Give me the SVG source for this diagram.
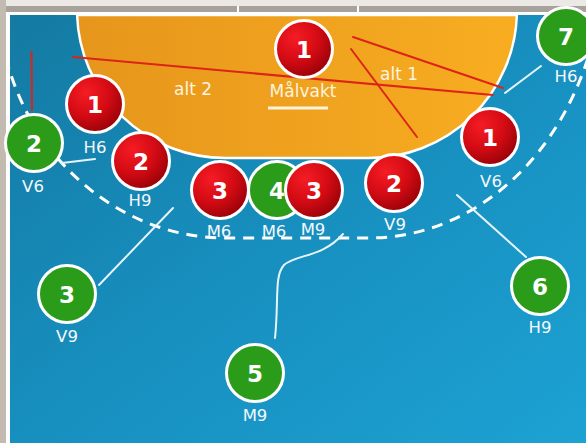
<svg xmlns="http://www.w3.org/2000/svg" width="586" height="443" viewBox="0 0 586 443">
  <defs>
    <linearGradient id="court" x1="0" y1="0" x2="1" y2="1">
      <stop offset="0" stop-color="#147aa2"/>
      <stop offset="0.5" stop-color="#178fbf"/>
      <stop offset="1" stop-color="#1ca2d3"/>
    </linearGradient>
    <linearGradient id="goalArea" x1="0" y1="0" x2="1" y2="0">
      <stop offset="0" stop-color="#e6961b"/>
      <stop offset="1" stop-color="#f8ad21"/>
    </linearGradient>
    <radialGradient id="redBall" cx="0.35" cy="0.3" r="0.8">
      <stop offset="0" stop-color="#f51c24"/>
      <stop offset="0.5" stop-color="#d40b14"/>
      <stop offset="1" stop-color="#8e0007"/>
    </radialGradient>
    <clipPath id="fieldClip">
      <rect x="10" y="15" width="576" height="428"/>
    </clipPath>
    <style>
      .red { fill: url(#redBall); stroke: #ffffff; stroke-width: 3; }
      .green { fill: #2b9b1a; stroke: #ffffff; stroke-width: 3; }
      .num { font-family: "DejaVu Sans", Verdana, sans-serif; font-weight: bold; font-size: 23px; fill: #ffffff; text-anchor: middle; }
      .lbl { font-family: "DejaVu Sans", Verdana, sans-serif; font-size: 16.5px; fill: #f4f8fb; text-anchor: middle; }
      .txt { font-family: "DejaVu Sans", Verdana, sans-serif; font-size: 17px; fill: #fdf3df; text-anchor: middle; }
      .move { fill: none; stroke: #e6f4fa; stroke-width: 2; stroke-linecap: round; }
      .redline { fill: none; stroke: #dc2418; stroke-width: 2; stroke-linecap: round; }
    </style>
  </defs>

  <!-- frame -->
  <rect x="0" y="0" width="586" height="443" fill="#ebe8e5"/>
  <rect x="0" y="0" width="6" height="443" fill="#c3bab0"/>
  <rect x="6" y="6" width="580" height="6" fill="#a8a29c"/>
  <rect x="6" y="12" width="580" height="431" fill="#ffffff"/>
  <line x1="238" y1="6" x2="238" y2="12" stroke="#ffffff" stroke-width="2"/>
  <line x1="358" y1="6" x2="358" y2="12" stroke="#ffffff" stroke-width="2"/>

  <!-- court -->
  <rect x="10" y="15" width="576" height="428" fill="url(#court)"/>

  <!-- 6 m goal area -->
  <path d="M77.1,15 A148,148 0 0 0 225,158 L369,158 A148,148 0 0 0 516.9,15 Z" fill="url(#goalArea)" stroke="#ffffff" stroke-width="2.5"/>

  <!-- 9 m free-throw line -->
  <path clip-path="url(#fieldClip)" d="M6,58 C35,170 130,238 225,238 L369,238 C460,238 550,175 588,58" fill="none" stroke="#ffffff" stroke-width="3" stroke-dasharray="11 8"/>

  <g id="connectors">
    <!-- goalkeeper options -->
    <line class="redline" x1="31.5" y1="52" x2="32" y2="110" stroke="#a8262a"/>
    <line class="redline" x1="73" y1="57" x2="493" y2="95"/>
    <line class="redline" x1="353" y1="37" x2="503" y2="88"/>
    <line class="redline" x1="351" y1="49" x2="417" y2="137"/>
    <!-- player runs -->
    <line class="move" x1="62" y1="163" x2="95" y2="159"/>
    <line class="move" x1="99" y1="285" x2="173" y2="208"/>
    <path class="move" d="M275,338 C279,300 274,276 284,265 C296,254 322,258 343,234"/>
    <line class="move" x1="526" y1="257" x2="457" y2="195"/>
    <line class="move" x1="541" y1="66" x2="505" y2="93"/>
  </g>

  <!-- goal area texts -->
  <text class="txt" x="193" y="95">alt 2</text>
  <text class="txt" x="399" y="80">alt 1</text>
  <text class="txt" x="303" y="97">Målvakt</text>
  <line x1="268" y1="108" x2="328" y2="108" stroke="#fdf3df" stroke-width="3"/>

  <g id="goalkeeper">
    <circle class="red" cx="304" cy="49" r="28.5"/>
    <text class="num" x="304" y="57.5">1</text>
  </g>

  <g id="def-h6">
    <circle class="red" cx="95" cy="104" r="28.5"/>
    <text class="num" x="95" y="112.5">1</text>
    <text class="lbl" x="95" y="153">H6</text>
  </g>

  <g id="att-v6">
    <circle class="green" cx="34" cy="143" r="28.5"/>
    <text class="num" x="34" y="151.5">2</text>
    <text class="lbl" x="33" y="192">V6</text>
  </g>

  <g id="def-h9">
    <circle class="red" cx="141" cy="161" r="28.5"/>
    <text class="num" x="141" y="169.5">2</text>
    <text class="lbl" x="140" y="206">H9</text>
  </g>

  <g id="def-m6">
    <circle class="red" cx="220" cy="190" r="28.5"/>
    <text class="num" x="220" y="198.5">3</text>
    <text class="lbl" x="219" y="237">M6</text>
  </g>

  <g id="att-m6">
    <circle class="green" cx="277" cy="190" r="28.5"/>
    <text class="num" x="277" y="198.5">4</text>
    <text class="lbl" x="274" y="237">M6</text>
  </g>

  <g id="def-m9">
    <circle class="red" cx="314" cy="190" r="28.5"/>
    <text class="num" x="314" y="198.5">3</text>
    <text class="lbl" x="313" y="235">M9</text>
  </g>

  <g id="def-v9">
    <circle class="red" cx="394" cy="183" r="28.5"/>
    <text class="num" x="394" y="191.5">2</text>
    <text class="lbl" x="395" y="230">V9</text>
  </g>

  <g id="def-v6">
    <circle class="red" cx="490" cy="137" r="28.5"/>
    <text class="num" x="490" y="145.5">1</text>
    <text class="lbl" x="491" y="187">V6</text>
  </g>

  <g id="att-h6">
    <circle class="green" cx="566" cy="36" r="28.5"/>
    <text class="num" x="566" y="44.5">7</text>
    <text class="lbl" x="566" y="82">H6</text>
  </g>

  <g id="att-v9">
    <circle class="green" cx="67" cy="294" r="28.5"/>
    <text class="num" x="67" y="302.5">3</text>
    <text class="lbl" x="67" y="342">V9</text>
  </g>

  <g id="att-m9">
    <circle class="green" cx="255" cy="373" r="28.5"/>
    <text class="num" x="255" y="381.5">5</text>
    <text class="lbl" x="255" y="421">M9</text>
  </g>

  <g id="att-h9">
    <circle class="green" cx="540" cy="286" r="28.5"/>
    <text class="num" x="540" y="294.5">6</text>
    <text class="lbl" x="540" y="333">H9</text>
  </g>
</svg>
